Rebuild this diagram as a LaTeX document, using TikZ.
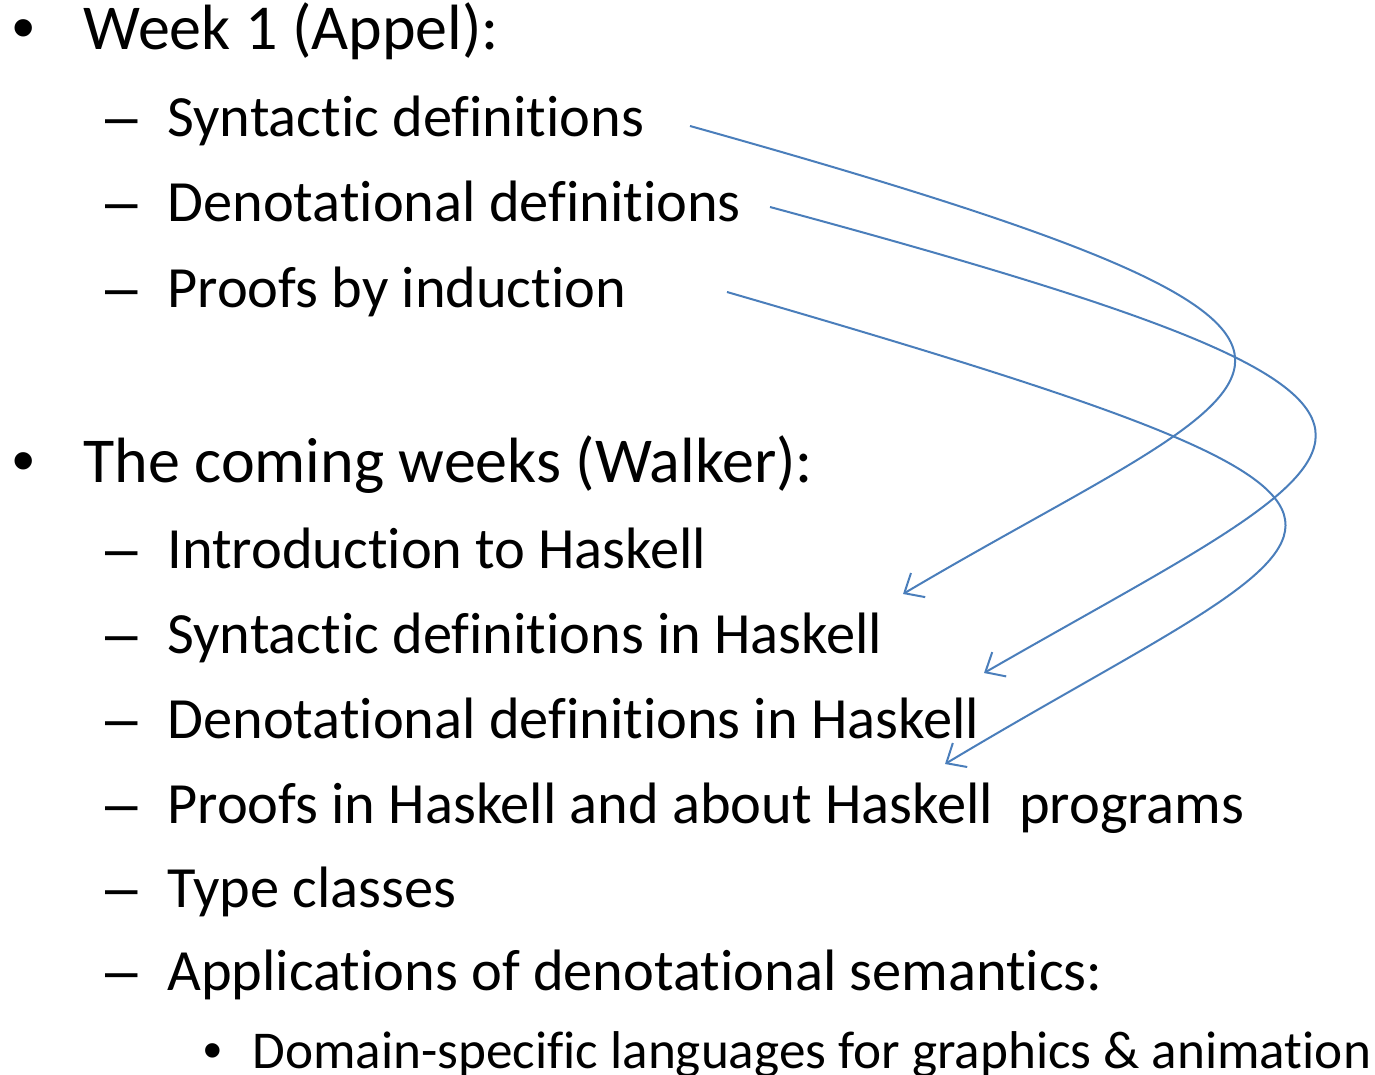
\documentclass[tikz,border=0pt]{standalone}
\usepackage{fontspec}
\setmainfont{Carlito}[Ligatures={NoCommon}]
\newfontfamily\bulletfont{Liberation Sans}
\usetikzlibrary{arrows.meta}
\definecolor{connblue}{HTML}{4A7EBB}
\tikzset{
  lvlA/.style={anchor=base west, inner sep=0pt, font=\fontsize{32}{36}\selectfont},
  lvlB/.style={anchor=base west, inner sep=0pt, font=\fontsize{29.2}{34}\selectfont},
  lvlC/.style={anchor=base west, inner sep=0pt, font=\fontsize{26.6}{30}\selectfont},
  markA/.style={anchor=base west, inner sep=0pt, font=\bulletfont\fontsize{32}{36}\selectfont},
  markB/.style={anchor=base west, inner sep=0pt, font=\bulletfont\fontsize{29.2}{34}\selectfont},
  markC/.style={anchor=base west, inner sep=0pt, font=\bulletfont\fontsize{26.6}{30}\selectfont},
  conn/.style={draw=connblue, line width=1pt, -{Straight Barb[length=8pt,width=14pt,line width=1pt]}}
}
\begin{document}
\begin{tikzpicture}[x=0.5pt,y=-0.5pt]
\useasboundingbox (0,0) rectangle (1375,1075);
% level 1
\node[markA] (b1) at (12,50) {•};
\node[lvlA] (t1) at (83,50) {Week 1 (Appel):};
\node[markA] (b2) at (12,482) {•};
\node[lvlA] (t2) at (83,482) {The coming weeks (Walker):};
% level 2
\node[markB] (d1) at (105,137) {–};
\node[lvlB] (a1) at (167,137) {Syntactic definitions};
\node[markB] (d2) at (105,222) {–};
\node[lvlB] (a2) at (167,222) {Denotational definitions};
\node[markB] (d3) at (105,307) {–};
\node[lvlB] (a3) at (167,307) {Proofs by induction};
\node[markB] (d4) at (105,568) {–};
\node[lvlB] (c1) at (167,568) {Introduction to Haskell};
\node[markB] (d5) at (105,653) {–};
\node[lvlB] (c2) at (167,653) {Syntactic definitions in Haskell};
\node[markB] (d6) at (105,738) {–};
\node[lvlB] (c3) at (167,738) {Denotational definitions in Haskell};
\node[markB] (d7) at (105,823) {–};
\node[lvlB] (c4) at (167,823) {Proofs in Haskell and about Haskell\ \ programs};
\node[markB] (d8) at (105,907) {–};
\node[lvlB] (c5) at (167,907) {Type classes};
\node[markB] (d9) at (105,990) {–};
\node[lvlB] (c6) at (167,990) {Applications of denotational semantics:};
% level 3
\node[markC] (b3) at (203,1068) {•};
\node[lvlC] (e1) at (252,1068) {Domain-specific languages for graphics \& animation};
% connector end points
\coordinate (s1) at (690,126);
\coordinate (s2) at (770,207);
\coordinate (s3) at (727,292);
\coordinate (e1t) at (903,594);
\coordinate (e2t) at (984,673);
\coordinate (e3t) at (945,764);
\draw[conn] (s1) .. controls (1484,348) and (1278,372) .. (e1t);
\draw[conn] (s2) .. controls (1533,413) and (1389,440) .. (e2t);
\draw[conn] (s3) .. controls (1510,519) and (1359,516) .. (e3t);
\end{tikzpicture}
\end{document}
